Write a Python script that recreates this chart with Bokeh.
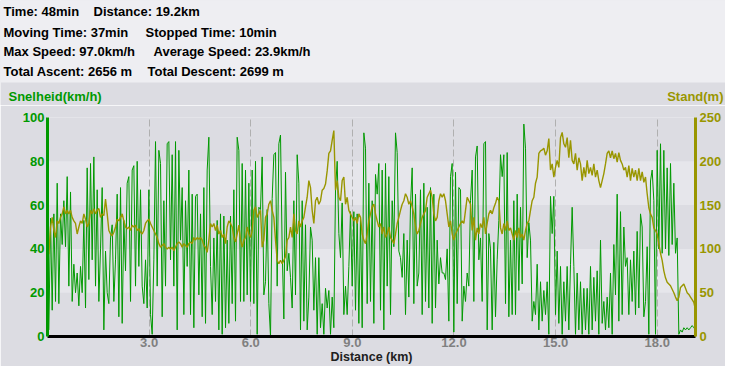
import numpy as np
from bokeh.plotting import figure
from bokeh.layouts import column
from bokeh.models import (Range1d, LinearAxis, FixedTicker, BoxAnnotation,
                          NumeralTickFormatter)
from bokeh.core.properties import value
from bokeh.embed import file_html
from bokeh.resources import INLINE

# ---------------- data ----------------
header_lines = [
    ["Time: 48min", "Distance: 19.2km"],
    ["Moving Time: 37min", "Stopped Time: 10min"],
    ["Max Speed: 97.0km/h", "Average Speed: 23.9km/h"],
    ["Total Ascent: 2656 m", "Total Descent: 2699 m"],
]
speed_title = "Snelheid(km/h)"
elev_title = "Stand(m)"
x_title = "Distance (km)"

dist_start_km = 0.04
dist_end_km = 19.13
x_ticks = [3, 6, 9, 12, 15, 18]
speed_ticks = [0, 20, 40, 60, 80, 100]
elev_ticks = [0, 50, 100, 150, 200, 250]

speed_kmh = [
    3, 54, 12, 56, 16, 70, 15, 56, 42, 62, 41, 73, 23, 66, 16, 33,
    20, 29, 14, 32, 20, 53, 13, 77, 26, 79, 35, 82, 23, 67, 16, 40,
    68, 3, 39, 20, 15, 45, 51, 16, 35, 65, 9, 68, 6, 53, 30, 70,
    73, 16, 76, 78, 23, 80, 32, 67, 23, 15, 35, 13, 67, 10, 1, 35,
    89, 23, 85, 79, 9, 62, 23, 88, 89, 35, 83, 23, 89, 3, 85, 44,
    68, 10, 62, 32, 76, 10, 65, 4, 64, 65, 19, 56, 9, 68, 6, 76,
    91, 32, 10, 45, 16, 53, 3, 56, 1, 55, 4, 44, 6, 55, 15, 67,
    7, 91, 85, 16, 79, 16, 76, 19, 70, 16, 76, 15, 80, 1, 59, 58,
    82, 19, 25, 58, 15, 0, 63, 83, 84, 23, 88, 92, 40, 8, 75, 30,
    38, 27, 13, 62, 19, 83, 70, 3, 62, 7, 51, 3, 18, 50, 44, 12,
    36, 1, 36, 4, 15, 1, 22, 13, 21, 1, 18, 4, 67, 80, 47, 36,
    61, 10, 23, 10, 32, 57, 23, 57, 12, 56, 6, 54, 4, 93, 86, 15,
    70, 16, 62, 6, 74, 65, 79, 12, 76, 3, 79, 23, 73, 10, 62, 41,
    93, 84, 39, 36, 27, 47, 10, 44, 18, 60, 77, 15, 65, 23, 29, 67,
    10, 70, 16, 59, 13, 68, 6, 65, 13, 44, 24, 36, 29, 29, 26, 40,
    7, 73, 79, 2, 75, 15, 68, 67, 7, 23, 16, 29, 23, 62,
    76, 16, 82, 87, 35, 45, 16, 88, 89, 3, 47, 40, 3, 43, 9, 35,
    53, 83, 73, 83, 15, 84, 9, 44, 10, 62, 10, 65, 21, 59, 24, 97,
    86, 36, 52, 44, 7, 16, 10, 33, 3, 25, 7, 21, 10, 25, 1, 64,
    47, 64, 10, 39, 6, 32, 1, 25, 7, 32, 3, 33, 59, 32, 1, 29,
    3, 25, 1, 22, 3, 22, 1, 32, 3, 27, 7, 30, 1, 44, 6, 16,
    3, 18, 4, 29, 1, 42, 19, 65, 7, 57, 10, 50, 32, 36, 10, 35,
    16, 39, 10, 48, 13, 56, 50, 9, 16, 41, 1, 71, 76, 62, 1, 85,
    40, 88, 38, 85, 40, 77, 37, 79, 42, 70, 38, 45, 1, 3, 2, 4,
    3, 4, 3, 4, 5, 4, 3,
]

elevation_m = [
    94, 125, 136, 121, 113, 132, 129, 136, 140, 148, 140, 144, 140, 144, 136, 132,
    129, 117, 125, 132, 129, 140, 134, 125, 129, 144, 140, 146, 140, 144, 146, 136,
    140, 138, 157, 140, 121, 117, 115, 119, 125, 134, 132, 136, 140, 132, 125, 123,
    125, 121, 127, 125, 127, 121, 123, 119, 117, 121, 129, 132, 134, 129, 125, 121,
    117, 113, 106, 102, 104, 106, 102, 100, 102, 100, 102, 98, 102, 106, 108, 106,
    102, 106, 104, 102, 106, 108, 106, 113, 110, 113, 111, 113, 110, 104, 102, 96,
    110, 129, 125, 129, 121, 127, 117, 121, 113, 117, 106, 125, 132, 129, 125, 113,
    108, 117, 127, 110, 102, 110, 113, 125, 117, 113, 121, 144, 148, 136, 140, 144,
    102, 110, 136, 140, 151, 155, 144, 136, 110, 87, 83, 87, 83, 87, 91, 110,
    113, 125, 113, 140, 121, 117, 132, 125, 132, 136, 148, 159, 178, 170, 144, 129,
    155, 159, 151, 155, 167, 169, 174, 189, 209, 212, 224, 235, 167, 178, 159, 155,
    178, 182, 151, 159, 144, 140, 136, 132, 136, 129, 140, 136, 117, 110, 106, 117,
    132, 140, 148, 151, 140, 132, 125, 129, 117, 125, 113, 117, 125, 113, 110, 106,
    117, 129, 136, 144, 151, 155, 163, 159, 151, 155, 148, 140, 125, 117, 121, 129,
    136, 140, 144, 159, 163, 167, 159, 140, 132, 136, 155, 163, 159, 163, 155, 140,
    125, 132, 117, 110, 117, 121, 125, 129, 132, 129, 144, 159, 155, 151,
    121, 136, 110, 124, 117, 129, 124, 136, 117, 129, 140, 144, 140, 147, 152, 159,
    155, 124, 117, 129, 121, 132, 121, 124, 117, 110, 121, 113, 124, 113, 117, 110,
    121, 129, 132, 144, 155, 159, 175, 182, 209, 212, 213, 215, 207, 212, 226, 190,
    197, 182, 193, 201, 193, 227, 233, 220, 216, 227, 204, 224, 201, 197, 209, 190,
    204, 197, 178, 193, 182, 201, 186, 193, 184, 197, 182, 190, 178, 170, 178, 186,
    197, 209, 212, 204, 212, 203, 209, 199, 210, 201, 197, 190, 193, 182, 195, 178,
    192, 182, 190, 178, 192, 178, 188, 176, 182, 163, 147, 140, 136, 124, 121, 117,
    106, 95, 87, 75, 67, 62, 60, 58, 54, 50, 45, 41, 45, 56, 58, 60,
    55, 50, 48, 45, 42, 39, 30,
]

speed_km = np.linspace(dist_start_km, dist_end_km, len(speed_kmh))
elev_km = np.linspace(dist_start_km, dist_end_km, len(elevation_m))

# ---------------- layout / style ----------------
W, H = 725, 366
HEAD_H = 105                 # height of the header strip (text panel)
FL, FR, FT, FB = 47, 695, 117, 337   # frame edges in page pixels
GREEN = "#009900"
OLIVE = "#999600"
PANEL = "#dcdce2"
BAND = "#e6e6eb"
HEADER = "#eeeef2"
FONT = "Liberation Sans"

# ---- header panel: a figure whose data units are pixels (y grows downward)
hd = figure(width=W, height=HEAD_H, output_backend="svg", toolbar_location=None,
            title=None, x_axis_location=None, y_axis_location=None,
            x_range=Range1d(0, W), y_range=Range1d(HEAD_H, 0),
            min_border_left=0, min_border_right=0, min_border_top=0,
            min_border_bottom=0, frame_align=False)
hd.background_fill_color = PANEL
hd.border_fill_color = PANEL
hd.outline_line_color = None
hd.grid.visible = False
hd.add_layout(BoxAnnotation(top=0, bottom=82, fill_color=HEADER, fill_alpha=1,
                            line_color=None, level="image"))

row_y = [11, 31.5, 51, 70.5]
col2_x = [93, 145, 153, 147]
hd.text(x=[3] * 4, y=row_y, text=[a for a, b in header_lines],
        text_font=value(FONT), text_font_style="bold", text_font_size="13px",
        text_baseline="middle", text_color="black")
hd.text(x=col2_x, y=row_y, text=[b for a, b in header_lines],
        text_font=value(FONT), text_font_style="bold", text_font_size="13px",
        text_baseline="middle", text_color="black")
hd.text(x=[8], y=[96], text=[speed_title], text_font=value(FONT),
        text_font_style="bold", text_font_size="13px", text_baseline="middle",
        text_color=GREEN)
hd.text(x=[723], y=[96], text=[elev_title], text_font=value(FONT),
        text_font_style="bold", text_font_size="13px", text_baseline="middle",
        text_align="right", text_color=OLIVE)

# ---- main chart
MH = H - HEAD_H
p = figure(width=W, height=MH, output_backend="svg", toolbar_location=None,
           title=None,
           x_range=Range1d(0, dist_end_km), y_range=Range1d(0, 100),
           min_border_left=FL, min_border_right=W - FR,
           min_border_top=FT - HEAD_H, min_border_bottom=H - FB,
           frame_align=False)
p.background_fill_color = PANEL
p.border_fill_color = PANEL
p.outline_line_color = None
p.extra_y_ranges = {"elev": Range1d(0, 250)}

for lo, hi in [(20, 40), (60, 80)]:
    p.add_layout(BoxAnnotation(bottom=lo, top=hi, fill_color=BAND, fill_alpha=1,
                               line_color=None, level="image"))

p.ygrid.visible = False
p.xgrid.ticker = FixedTicker(ticks=x_ticks)
p.xgrid.grid_line_color = "#b0b0b0"
p.xgrid.grid_line_dash = "7 3"
p.xgrid.grid_line_width = 1

p.line(speed_km, speed_kmh, line_color=GREEN, line_width=1)
p.line(elev_km, elevation_m, y_range_name="elev", line_color=OLIVE, line_width=1.4)


def style_axis(ax, color, standoff):
    ax.axis_line_color = color
    ax.axis_line_width = 3
    ax.major_tick_line_color = None
    ax.minor_tick_line_color = None
    ax.major_tick_out = 0
    ax.major_tick_in = 0
    ax.major_label_standoff = standoff
    ax.major_label_text_font = FONT
    ax.major_label_text_font_style = "bold"
    ax.major_label_text_font_size = "13px"


xa = p.xaxis[0]
xa.ticker = FixedTicker(ticks=x_ticks)
xa.formatter = NumeralTickFormatter(format="0.0")
style_axis(xa, "black", 1)
xa.major_label_text_color = "#808080"
xa.axis_label = x_title
xa.axis_label_standoff = 0
xa.axis_label_text_font = FONT
xa.axis_label_text_font_style = "bold"
xa.axis_label_text_font_size = "12.5px"
xa.axis_label_text_color = "#202020"

ya = p.yaxis[0]
ya.ticker = FixedTicker(ticks=speed_ticks)
style_axis(ya, GREEN, 3)
ya.major_label_text_color = GREEN

ra = LinearAxis(y_range_name="elev", ticker=FixedTicker(ticks=elev_ticks))
style_axis(ra, OLIVE, 4)
ra.major_label_text_color = OLIVE
p.add_layout(ra, "right")

page = column(hd, p, spacing=0)
open("out.html", "w").write(file_html(page, INLINE))
